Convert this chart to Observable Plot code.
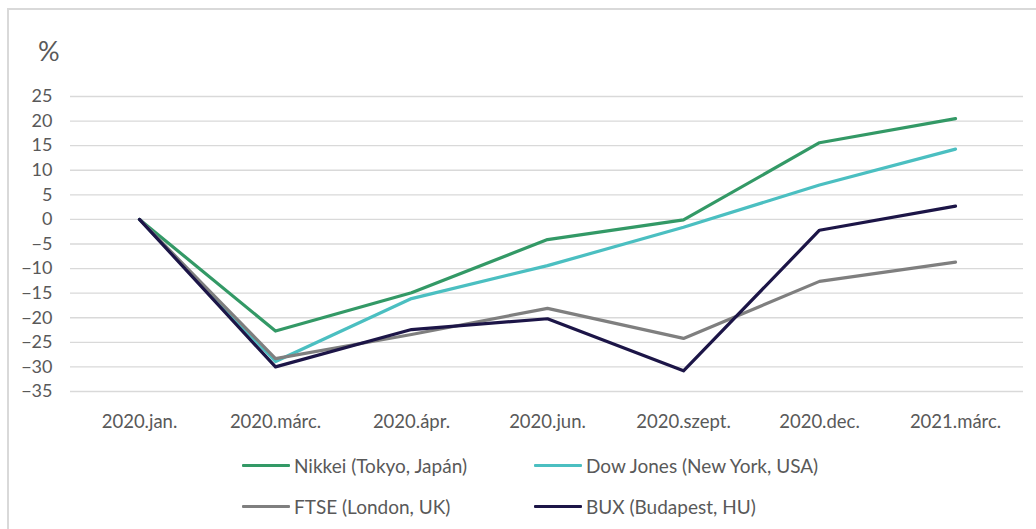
<!DOCTYPE html>
<html>
<head>
<meta charset="utf-8">
<script src="https://cdn.jsdelivr.net/npm/d3@7"></script>
<script src="https://cdn.jsdelivr.net/npm/@observablehq/plot@0.6"></script>
<style>
  html, body { margin: 0; padding: 0; background: #fff; overflow: hidden; }
  #wrap { position: relative; width: 1036px; height: 529px; overflow: hidden; font-family: Lato, "Open Sans", sans-serif; }
  #frame { position: absolute; left: 7px; top: 8px; width: 1100px; height: 600px; border: 2px solid #d9d9d9; box-sizing: border-box; }
  #unit { position: absolute; left: 38px; top: 34px; font-size: 27px; color: #595959; }
  #chart { position: absolute; left: 0; top: 0; }
  .leg { position: absolute; display: flex; align-items: center; font-size: 19px; color: #595959; height: 24px; }
  .sw { width: 48px; height: 3px; margin-right: 4px; border-radius: 1px; }
</style>
</head>
<body>
<div id="wrap">
  <div id="frame"></div>
  <div id="chart"></div>
  <div id="unit">%</div>
  <div id="legend"></div>
</div>
<script>
const categories = ["2020.jan.", "2020.márc.", "2020.ápr.", "2020.jun.", "2020.szept.", "2020.dec.", "2021.márc."];
const seriesNames = ["Nikkei (Tokyo, Japán)", "Dow Jones (New York, USA)", "FTSE (London, UK)", "BUX (Budapest, HU)"];
const seriesColors = ["#339966", "#4bbfc1", "#7f7f7f", "#1c1547"];
const nikkei   = [0, -22.7, -14.9, -4.1, -0.1, 15.6, 20.5];
const dowJones = [0, -28.9, -16.1, -9.4, -1.6, 7.0, 14.3];
const ftse     = [0, -28.3, -23.4, -18.1, -24.2, -12.6, -8.7];
const bux      = [0, -30.0, -22.4, -20.2, -30.8, -2.2, 2.7];
const yTicks = [-35, -30, -25, -20, -15, -10, -5, 0, 5, 10, 15, 20, 25];

const allSeries = [nikkei, dowJones, ftse, bux];
const rows = [];
allSeries.forEach((vals, si) => {
  vals.forEach((v, i) => rows.push({series: seriesNames[si], cat: categories[i], value: v}));
});

const chart = Plot.plot({
  width: 1036,
  height: 440,
  marginTop: 96,
  marginBottom: 49,
  marginLeft: 70,
  marginRight: 13,
  style: { fontFamily: "Lato, 'Open Sans', sans-serif", fontSize: "18px", color: "#595959", background: "transparent" },
  x: { type: "point", domain: categories, padding: 0.5, label: null, tickSize: 0, tickPadding: 23 },
  y: { domain: [-35, 25], ticks: yTicks, label: null, tickSize: 0, tickPadding: 18 },
  color: { domain: seriesNames, range: seriesColors },
  marks: [
    Plot.ruleY(yTicks, { stroke: "#d9d9d9", strokeWidth: 1.3 }),
    Plot.axisX({ tickSize: 0, tickPadding: 23, fontSize: 18.5, fill: "#595959" }),
    Plot.axisY({ ticks: yTicks, tickSize: 0, tickPadding: 18, fontSize: 18, fill: "#595959" }),
    Plot.line(rows, { x: "cat", y: "value", z: "series", stroke: "series", strokeWidth: 3.2, strokeLinejoin: "round", strokeLinecap: "round" })
  ]
});
document.getElementById("chart").appendChild(chart);

const legend = document.getElementById("legend");
const colsX = [242, 534];
const rowsY = [453, 494];
seriesNames.forEach((name, i) => {
  const item = document.createElement("div");
  item.className = "leg";
  item.style.left = colsX[i % 2] + "px";
  item.style.top = rowsY[Math.floor(i / 2)] + "px";
  const sw = document.createElement("div");
  sw.className = "sw";
  sw.style.background = seriesColors[i];
  const tx = document.createElement("span");
  tx.textContent = name;
  item.appendChild(sw);
  item.appendChild(tx);
  legend.appendChild(item);
});
</script>
</body>
</html>
